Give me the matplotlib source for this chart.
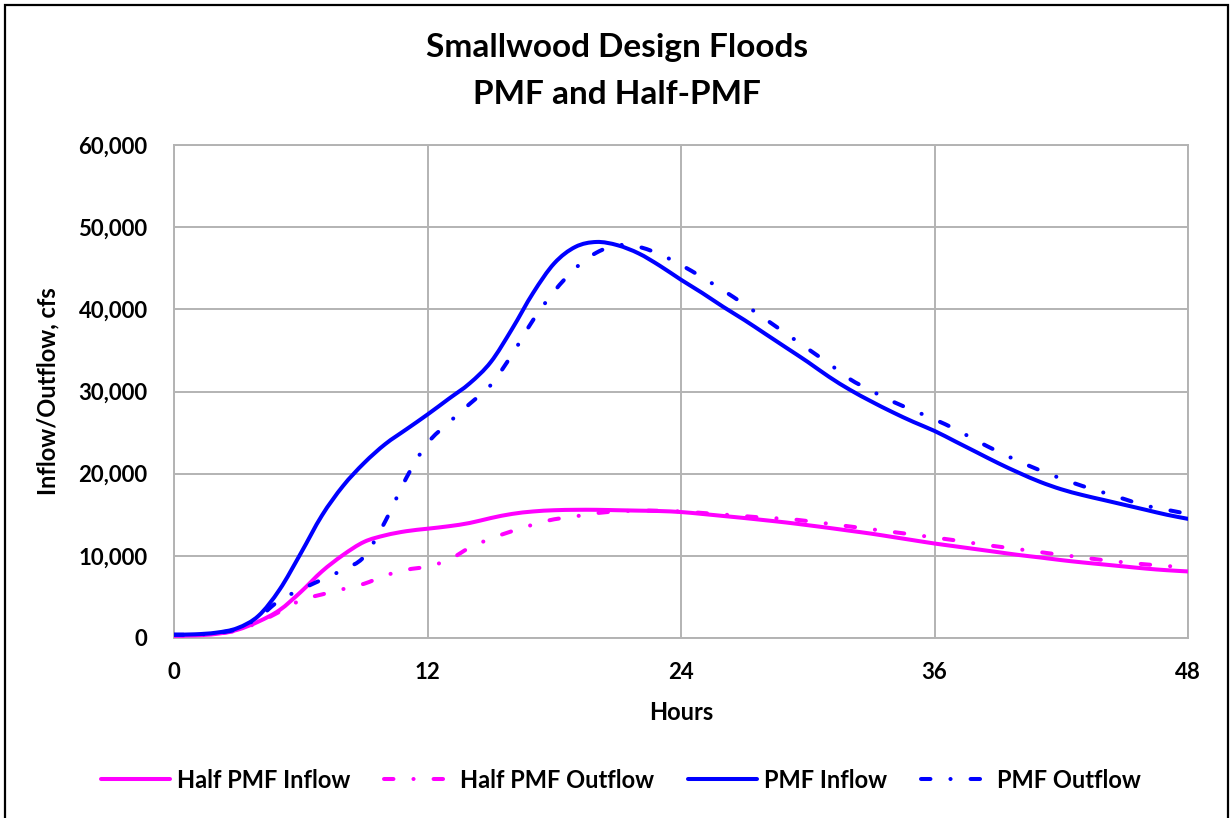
import matplotlib
matplotlib.use("Agg")
import matplotlib.pyplot as plt
from matplotlib.patches import Rectangle, PathPatch
from matplotlib.path import Path
from matplotlib.lines import Line2D
from matplotlib.ticker import FuncFormatter, MultipleLocator

plt.rcParams['font.family'] = ['Lato', 'DejaVu Sans']
plt.rcParams['font.weight'] = 'bold'
plt.rcParams['lines.scale_dashes'] = False

hours = list(range(0, 49))

pmf_inflow = [400, 450, 650, 1200, 2700, 5900, 10300, 14900, 18500, 21300,
              23600, 25400, 27200, 29100, 31000, 33600, 37600, 42000, 45600, 47600,
              48200, 47800, 46800, 45300, 43600, 42000, 40300, 38700, 37000, 35300,
              33600, 31800, 30200, 28800, 27500, 26300, 25200, 23900, 22600, 21300,
              20100, 19000, 18100, 17400, 16800, 16200, 15600, 15000, 14500]

pmf_outflow = [400, 420, 600, 1100, 2500, 4600, 5900, 7100, 8300, 9900,
               14200, 19500, 23700, 26200, 28500, 30800, 34500, 38700, 42200, 45000,
               46900, 47800, 47600, 46700, 45400, 43900, 42300, 40600, 38800, 37000,
               35200, 33400, 31500, 30100, 28800, 27700, 26600, 25400, 24000, 22700,
               21500, 20400, 19400, 18500, 17700, 16900, 16100, 15600, 15100]

half_inflow = [300, 320, 500, 1000, 2000, 3400, 5600, 8100, 10100, 11700,
               12500, 13000, 13300, 13600, 14000, 14600, 15100, 15400, 15550, 15600,
               15600, 15550, 15500, 15450, 15330, 15100, 14850, 14600, 14330, 14050,
               13730, 13400, 13050, 12700, 12300, 11900, 11500, 11150, 10800, 10450,
               10100, 9800, 9480, 9200, 8950, 8700, 8450, 8250, 8100]

half_outflow = [300, 320, 480, 950, 1900, 3200, 4600, 5300, 5950, 6600,
                7600, 8300, 8700, 9500, 11000, 12100, 13000, 13800, 14450, 14800,
                15200, 15400, 15500, 15480, 15400, 15220, 15030, 14830, 14630, 14500,
                14230, 13900, 13570, 13240, 12910, 12580, 12220, 11880, 11480, 11130,
                10800, 10450, 10120, 9800, 9480, 9200, 8960, 8760, 8600]

series_labels = ["Half PMF Inflow", "Half PMF Outflow", "PMF Inflow", "PMF Outflow"]
x_ticks = [0, 12, 24, 36, 48]

MAGENTA = "#FF00FF"
BLUE = "#0000FF"
GRID = "#B3B3B3"
LW = 2.9
DASHDOT = (0, (6.8, 14.4, 0.1, 14.4))


def smooth_path(xs, ys):
    """Smoothed polyline through the points (cubic Bezier, Catmull-Rom style)."""
    n = len(xs)
    verts = [(xs[0], ys[0])]
    codes = [Path.MOVETO]
    for i in range(n - 1):
        x0, y0 = (xs[i - 1], ys[i - 1]) if i > 0 else (xs[i], ys[i])
        x1, y1 = xs[i], ys[i]
        x2, y2 = xs[i + 1], ys[i + 1]
        x3, y3 = (xs[i + 2], ys[i + 2]) if i + 2 < n else (x2, y2)
        c1 = (x1 + (x2 - x0) / 6.0, y1 + (y2 - y0) / 6.0)
        c2 = (x2 - (x3 - x1) / 6.0, y2 - (y3 - y1) / 6.0)
        verts += [c1, c2, (x2, y2)]
        codes += [Path.CURVE4] * 3
    return Path(verts, codes)


fig = plt.figure(figsize=(12.3, 8.18), dpi=100)
ax = fig.add_axes([174 / 1230, 1 - 638 / 818, (1188 - 174) / 1230, (638 - 145) / 818])

styles = [(half_inflow, MAGENTA, '-'), (half_outflow, MAGENTA, DASHDOT),
          (pmf_inflow, BLUE, '-'), (pmf_outflow, BLUE, DASHDOT)]
handles = []
for (vals, col, ls), lab in zip(styles, series_labels):
    ax.add_patch(PathPatch(smooth_path(hours, vals), fill=False, edgecolor=col,
                           linewidth=LW, linestyle=ls, capstyle='round',
                           joinstyle='round', zorder=3))
    handles.append(Line2D([], [], color=col, linewidth=LW, linestyle=ls,
                          solid_capstyle='round', dash_capstyle='round', label=lab))

ax.set_xlim(0, 48)
ax.set_ylim(0, 60000)
ax.set_xticks(x_ticks)
ax.yaxis.set_major_locator(MultipleLocator(10000))
ax.yaxis.set_major_formatter(FuncFormatter(lambda v, p: f"{int(v):,}"))

ax.grid(True, color=GRID, linewidth=1.4)
ax.set_axisbelow(True)
for s in ax.spines.values():
    s.set_color(GRID)
    s.set_linewidth(1.4)
ax.tick_params(length=0, labelsize=16)
ax.tick_params(axis='y', pad=19)
ax.tick_params(axis='x', pad=17)
for lbl in ax.get_xticklabels() + ax.get_yticklabels():
    lbl.set_fontweight('bold')

ax.set_xlabel("Hours", fontsize=17, fontweight='bold', labelpad=13)
ax.set_ylabel("Inflow/Outflow, cfs", fontsize=17, fontweight='bold', labelpad=14)

fig.text(617 / 1230, 1 - 48 / 818, "Smallwood Design Floods", ha='center', va='center',
         fontsize=24, fontweight='bold')
fig.text(617 / 1230, 1 - 95 / 818, "PMF and Half-PMF", ha='center', va='center',
         fontsize=24, fontweight='bold')

leg = fig.legend(handles=handles, loc='center', bbox_to_anchor=(621 / 1230, 1 - 780 / 818),
                 ncol=4, frameon=False, fontsize=17, handlelength=2.9, handletextpad=0.3,
                 columnspacing=1.45)
for t in leg.get_texts():
    t.set_fontweight('bold')

fig.patches.append(Rectangle((5 / 1230, -0.05), (1228 - 5) / 1230, 1.05 - 5 / 818,
                             transform=fig.transFigure, fill=False,
                             edgecolor='black', linewidth=1.6))

fig.savefig("out.png", dpi=100)
